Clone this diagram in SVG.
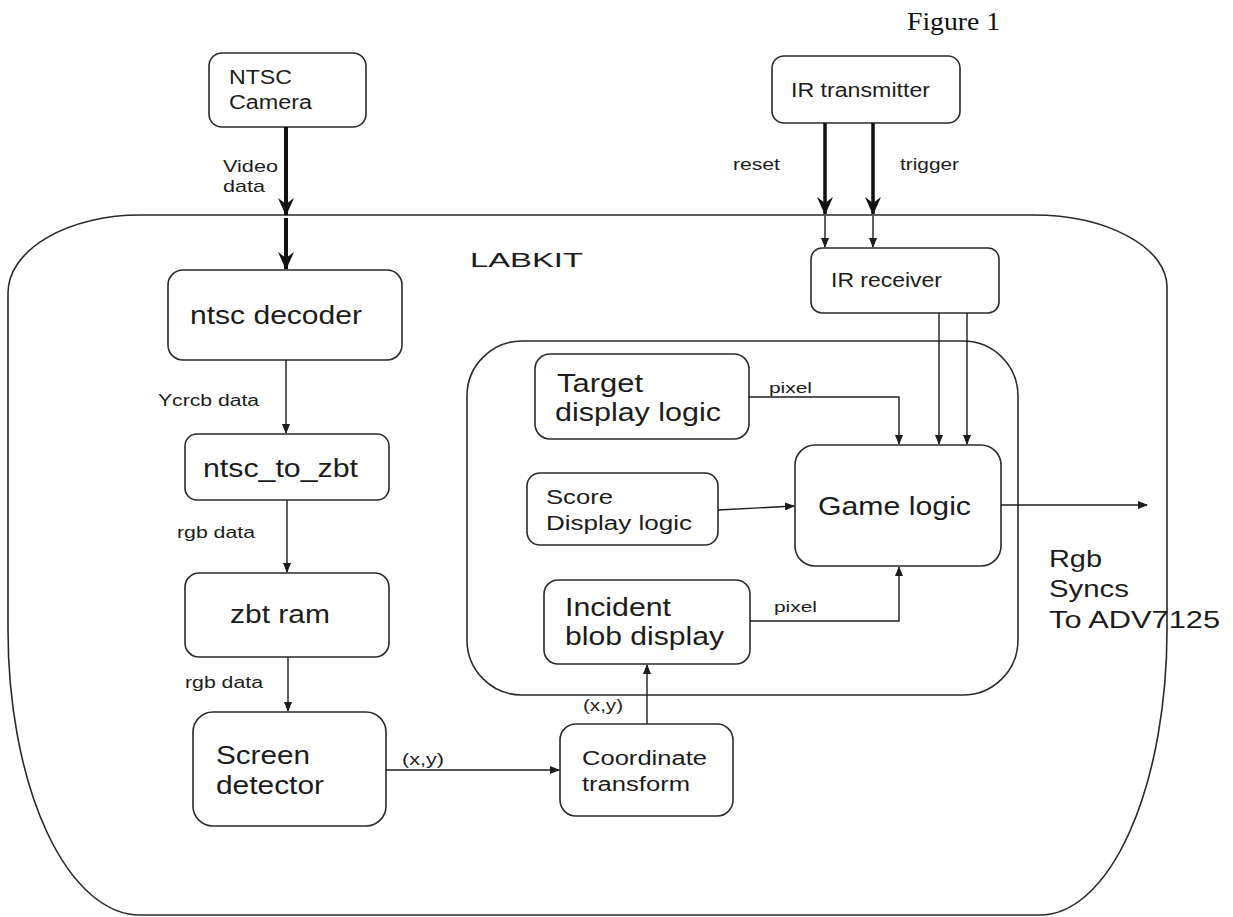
<svg xmlns="http://www.w3.org/2000/svg" width="1233" height="917" viewBox="0 0 1233 917">
<style>
.box{fill:#fff;stroke:#2a2a2a;stroke-width:1.6}
.frame{fill:none;stroke:#2a2a2a;stroke-width:1.6}
.t{font-family:'Liberation Sans',Arial,sans-serif;fill:#1c1c1c}
.ln{stroke:#1c1c1c;stroke-width:1.4;fill:none}
.thick{stroke:#111;stroke-width:4;fill:none}
.fig{font-family:'Liberation Serif','Times New Roman',serif;fill:#111}
</style>
<defs>
<marker id="ah" markerUnits="userSpaceOnUse" markerWidth="10" markerHeight="8" refX="9" refY="4" orient="auto"><path d="M0,0 L10,4 L0,8 Z" fill="#1c1c1c"/></marker>
<marker id="big" markerUnits="userSpaceOnUse" markerWidth="18" markerHeight="16" refX="17" refY="8" orient="auto"><path d="M0,0 L18,8 L0,16 L6,8 Z" fill="#111"/></marker>
</defs>
<rect width="1233" height="917" fill="#fff"/>
<text class="fig" x="907" y="30" font-size="26" textLength="93" lengthAdjust="spacingAndGlyphs">Figure 1</text>

<g id="labkit">
<path class="frame" d="M140,215 L1033,215 A134,72 0 0 1 1167,287 L1167,630 A127,285 0 0 1 1040,915 L140,915 A132,285 0 0 1 8,630 L8,293 A132,78 0 0 1 140,215 Z"/>
<text class="t" x="470" y="267" font-size="21" textLength="113" lengthAdjust="spacingAndGlyphs">LABKIT</text>
</g>
<g id="inner">
<rect class="frame" x="467" y="341" width="551" height="354" rx="55" ry="55"/>
</g>

<g id="ntsc-camera">
<rect class="box" x="209" y="53" width="157" height="74" rx="13"/>
<text class="t" x="229" y="84" font-size="20" textLength="63" lengthAdjust="spacingAndGlyphs">NTSC</text>
<text class="t" x="229" y="109" font-size="20" textLength="83" lengthAdjust="spacingAndGlyphs">Camera</text>
</g>
<g id="ir-transmitter">
<rect class="box" x="772" y="56" width="188" height="67" rx="12"/>
<text class="t" x="791" y="97" font-size="20" textLength="139" lengthAdjust="spacingAndGlyphs">IR transmitter</text>
</g>
<g id="ir-receiver">
<rect class="box" x="811" y="248" width="188" height="65" rx="11"/>
<text class="t" x="831" y="287" font-size="20" textLength="111" lengthAdjust="spacingAndGlyphs">IR receiver</text>
</g>
<g id="ntsc-decoder">
<rect class="box" x="168" y="270" width="234" height="90" rx="15"/>
<text class="t" x="190" y="324" font-size="26" textLength="172" lengthAdjust="spacingAndGlyphs">ntsc decoder</text>
</g>
<g id="ntsc-to-zbt">
<rect class="box" x="185" y="434" width="204" height="66" rx="12"/>
<text class="t" x="203" y="477" font-size="25" textLength="155" lengthAdjust="spacingAndGlyphs">ntsc_to_zbt</text>
</g>
<g id="zbt-ram">
<rect class="box" x="185" y="573" width="204" height="84" rx="14"/>
<text class="t" x="230" y="623" font-size="26" textLength="100" lengthAdjust="spacingAndGlyphs">zbt ram</text>
</g>
<g id="screen-detector">
<rect class="box" x="193" y="712" width="193" height="114" rx="20"/>
<text class="t" x="216" y="764" font-size="25" textLength="94" lengthAdjust="spacingAndGlyphs">Screen</text>
<text class="t" x="216" y="794" font-size="25" textLength="108" lengthAdjust="spacingAndGlyphs">detector</text>
</g>
<g id="coordinate-transform">
<rect class="box" x="560" y="724" width="173" height="92" rx="16"/>
<text class="t" x="582" y="765" font-size="20" textLength="125" lengthAdjust="spacingAndGlyphs">Coordinate</text>
<text class="t" x="582" y="791" font-size="20" textLength="108" lengthAdjust="spacingAndGlyphs">transform</text>
</g>
<g id="target-display">
<rect class="box" x="535" y="354" width="214" height="85" rx="15"/>
<text class="t" x="557" y="392" font-size="25" textLength="86" lengthAdjust="spacingAndGlyphs">Target</text>
<text class="t" x="555" y="421" font-size="25" textLength="166" lengthAdjust="spacingAndGlyphs">display logic</text>
</g>
<g id="score-display">
<rect class="box" x="527" y="473" width="191" height="72" rx="13"/>
<text class="t" x="546" y="504" font-size="20" textLength="67" lengthAdjust="spacingAndGlyphs">Score</text>
<text class="t" x="546" y="530" font-size="20" textLength="146" lengthAdjust="spacingAndGlyphs">Display logic</text>
</g>
<g id="incident-blob">
<rect class="box" x="544" y="580" width="206" height="84" rx="14"/>
<text class="t" x="565" y="616" font-size="25" textLength="106" lengthAdjust="spacingAndGlyphs">Incident</text>
<text class="t" x="565" y="645" font-size="25" textLength="159" lengthAdjust="spacingAndGlyphs">blob display</text>
</g>
<g id="game-logic">
<rect class="box" x="795" y="445" width="206" height="121" rx="20"/>
<text class="t" x="818" y="515" font-size="26" textLength="153" lengthAdjust="spacingAndGlyphs">Game logic</text>
</g>
<g id="output-label">
<text class="t" x="1049" y="567" font-size="24" textLength="53" lengthAdjust="spacingAndGlyphs">Rgb</text>
<text class="t" x="1049" y="597" font-size="24" textLength="80" lengthAdjust="spacingAndGlyphs">Syncs</text>
<text class="t" x="1049" y="628" font-size="24" textLength="171" lengthAdjust="spacingAndGlyphs">To ADV7125</text>
</g>

<g id="connectors">
<line class="thick" x1="286" y1="127" x2="286" y2="215" marker-end="url(#big)"/>
<line class="thick" x1="286" y1="218" x2="286" y2="269" marker-end="url(#big)"/>
<text class="t" x="223" y="172" font-size="17" textLength="55" lengthAdjust="spacingAndGlyphs">Video</text>
<text class="t" x="223" y="192" font-size="17" textLength="42" lengthAdjust="spacingAndGlyphs">data</text>

<line class="thick" x1="825" y1="123" x2="825" y2="214" marker-end="url(#big)" style="stroke-width:3.5"/>
<line class="thick" x1="873" y1="123" x2="873" y2="214" marker-end="url(#big)" style="stroke-width:3.5"/>
<line class="ln" x1="825" y1="216" x2="825" y2="247" marker-end="url(#ah)"/>
<line class="ln" x1="873" y1="216" x2="873" y2="247" marker-end="url(#ah)"/>
<text class="t" x="733" y="170" font-size="16" textLength="47" lengthAdjust="spacingAndGlyphs">reset</text>
<text class="t" x="900" y="170" font-size="16" textLength="59" lengthAdjust="spacingAndGlyphs">trigger</text>

<line class="ln" x1="939" y1="313" x2="939" y2="444" marker-end="url(#ah)"/>
<line class="ln" x1="967" y1="313" x2="967" y2="444" marker-end="url(#ah)"/>

<line class="ln" x1="286" y1="360" x2="286" y2="433" marker-end="url(#ah)"/>
<text class="t" x="158" y="406" font-size="16" textLength="101" lengthAdjust="spacingAndGlyphs">Ycrcb data</text>
<line class="ln" x1="287" y1="500" x2="287" y2="572" marker-end="url(#ah)"/>
<text class="t" x="177" y="538" font-size="16" textLength="78" lengthAdjust="spacingAndGlyphs">rgb data</text>
<line class="ln" x1="288" y1="657" x2="288" y2="711" marker-end="url(#ah)"/>
<text class="t" x="185" y="688" font-size="16" textLength="78" lengthAdjust="spacingAndGlyphs">rgb data</text>

<line class="ln" x1="386" y1="770" x2="559" y2="770" marker-end="url(#ah)"/>
<text class="t" x="402" y="765" font-size="16" textLength="42" lengthAdjust="spacingAndGlyphs">(x,y)</text>
<line class="ln" x1="647" y1="724" x2="647" y2="665" marker-end="url(#ah)"/>
<text class="t" x="583" y="711" font-size="16" textLength="40" lengthAdjust="spacingAndGlyphs">(x,y)</text>

<polyline class="ln" points="749,397 899,397 899,444" marker-end="url(#ah)"/>
<text class="t" x="769" y="393" font-size="15" textLength="43" lengthAdjust="spacingAndGlyphs">pixel</text>
<line class="ln" x1="718" y1="510" x2="794" y2="506" marker-end="url(#ah)"/>
<polyline class="ln" points="750,621 899,621 899,567" marker-end="url(#ah)"/>
<text class="t" x="774" y="612" font-size="15" textLength="43" lengthAdjust="spacingAndGlyphs">pixel</text>

<line class="ln" x1="1001" y1="505" x2="1147" y2="505" marker-end="url(#ah)"/>
</g>
</svg>
